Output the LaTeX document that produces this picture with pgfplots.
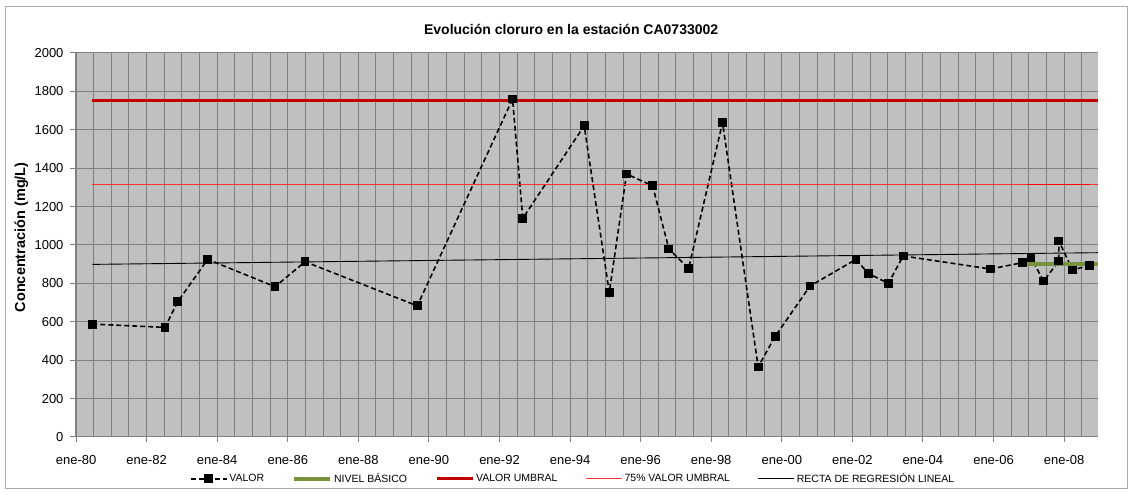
\documentclass[border=0pt]{standalone}
\usepackage{fontspec}
\setmainfont{Liberation Sans}
\usepackage{pgfplots}
\pgfplotsset{compat=1.18}
\definecolor{bgc}{RGB}{192,192,192}
\definecolor{gridc}{RGB}{128,128,128}
\definecolor{umbral}{RGB}{192,0,0}
\definecolor{verde}{RGB}{119,147,60}
\definecolor{frame}{RGB}{170,170,170}
\begin{document}
\begin{tikzpicture}[x=1pt,y=1pt]
\path (0,0) rectangle (1132,495);
\draw[color=frame, line width=1pt] (5,6) rectangle (1127,488);
\begin{axis}[
  at={(75pt,58pt)}, anchor=south west,
  scale only axis, width=1023pt, height=384pt,
  xmin=1979.97, xmax=2008.96, ymin=0, ymax=2000,
  axis x line*=bottom, axis y line*=left,
  axis line style={gridc, line width=1pt, -},
  axis background/.style={fill=bgc},
  xtick={1980,1982,...,2008},
  xticklabels={ene-80,ene-82,ene-84,ene-86,ene-88,ene-90,ene-92,ene-94,ene-96,ene-98,ene-00,ene-02,ene-04,ene-06,ene-08},
  minor xtick={1980.5,1981,...,2008.5},
  ytick={0,200,...,2000},
  xmajorgrids, ymajorgrids, xminorgrids,
  major grid style={gridc, line width=1pt},
  minor grid style={gridc, line width=1pt},
  tick align=outside, major tick length=5pt, minor tick length=0pt,
  tick style={gridc, line width=1pt},
  /pgf/number format/assume math mode=true,
  /pgf/number format/1000 sep={},
  tick label style={font=\fontsize{13}{15}\selectfont},
  yticklabel style={xshift=-3pt},
  xticklabel style={yshift=-9.5pt},
  title={Evolución cloruro en la estación CA0733002},
  title style={font=\bfseries\fontsize{14}{16}\selectfont, at={(axis description cs:0.485,1)}, anchor=base, yshift=12pt},
  ylabel={Concentración (mg/L)},
  ylabel style={font=\bfseries\fontsize{14.5}{16}\selectfont, at={(axis description cs:-0.0525,0.52)}, anchor=center},
  legend style={at={(axis description cs:0.4868,-0.109)}, anchor=center, draw=none, fill=none,
    font=\fontsize{10.5}{12}\selectfont, legend columns=5,
    /tikz/every even column/.append style={column sep=26pt}},
  legend cell align=left,
  legend image code/.code={\draw[mark repeat=2,mark phase=2,#1] plot coordinates {(0pt,0pt) (18pt,0pt) (36pt,0pt)};},
]
\addplot[black, line width=1.6pt, dash pattern=on 5pt off 3pt, mark=square*, mark size=3.6pt, mark options={solid}] coordinates {
(1980.46,588) (1982.52,571) (1982.88,704) (1983.73,925) (1985.64,783) (1986.49,913)
(1989.67,683) (1992.37,1760) (1992.66,1139) (1994.40,1621) (1995.11,753) (1995.60,1370)
(1996.34,1308) (1996.80,979) (1997.36,878) (1998.32,1638) (1999.33,365) (1999.81,524)
(2000.80,786) (2002.10,925) (2002.45,852) (2003.02,800) (2003.44,943) (2005.91,875)
(2006.82,908) (2007.06,934) (2007.42,812) (2007.85,917) (2007.85,1021) (2008.24,870)
(2008.73,894)
};
\addlegendentry{VALOR}
\addplot[verde, line width=4pt] coordinates {(2006.93,903) (2008.96,903)};
\addlegendentry{NIVEL BÁSICO}
\addplot[umbral, line width=3pt] coordinates {(1980.46,1750) (2008.96,1750)};
\addlegendentry{VALOR UMBRAL}
\addplot[red!80!white, line width=1pt] coordinates {(1980.46,1312.5) (2008.96,1312.5)};
\addlegendentry{75\% VALOR UMBRAL}
\addplot[black, line width=0.9pt] coordinates {(1980.46,899) (2008.96,960)};
\addlegendentry{RECTA DE REGRESIÓN LINEAL}
\addplot[red, line width=1pt, forget plot] coordinates {(2006.96,1312.5) (2008.73,1312.5)};
\end{axis}
\end{tikzpicture}
\end{document}
